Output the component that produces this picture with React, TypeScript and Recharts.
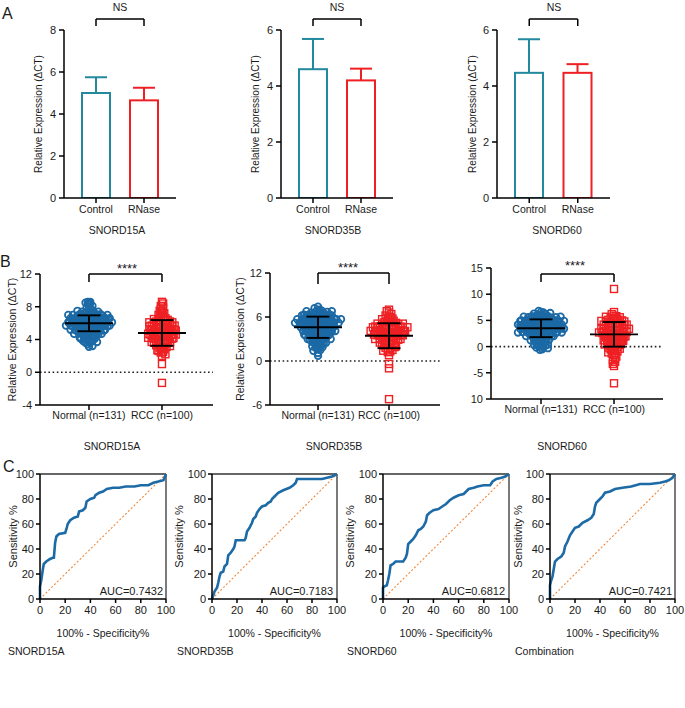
import React from 'react';
import { BarChart, Bar, XAxis, YAxis, ScatterChart, Scatter, LineChart, Line, ReferenceLine } from 'recharts';

const FONT = '"Liberation Sans", Arial, Helvetica, sans-serif';
const INK = '#1a1a1a';

// ---------------- Panel A data ----------------
const groupsA = ['Control', 'RNase'];
const genes = ['SNORD15A', 'SNORD35B', 'SNORD60'];
const meanA_15A = [5.0, 4.65];
const sdA_15A = [0.75, 0.6];
const meanA_35B = [4.6, 4.2];
const sdA_35B = [1.08, 0.42];
const meanA_60 = [4.47, 4.47];
const sdA_60 = [1.2, 0.31];
const ticksA8 = [0, 2, 4, 6, 8];
const ticksA6 = [0, 2, 4, 6];

// ---------------- Panel B data ----------------
const groupsB = ['Normal (n=131)', 'RCC (n=100)'];
const normal15A = [3.1, 3.2, 3.4,
  3.6, 3.6, 3.7, 3.8, 3.8, 3.9, 3.9,
  4.0, 4.1, 4.1, 4.2, 4.3, 4.3, 4.4, 4.4, 4.4,
  4.5, 4.6, 4.6, 4.7, 4.7, 4.8, 4.8, 4.9, 4.9, 4.9, 4.9,
  5.0, 5.0, 5.0, 5.1, 5.1, 5.1, 5.2, 5.2, 5.2, 5.3, 5.3, 5.3, 5.4, 5.4, 5.4,
  5.5, 5.5, 5.5, 5.5, 5.6, 5.6, 5.6, 5.6, 5.7, 5.7, 5.7, 5.7, 5.8, 5.8, 5.8, 5.8, 5.9, 5.9, 5.9, 5.9,
  6.0, 6.0, 6.0, 6.0, 6.0, 6.1, 6.1, 6.1, 6.1, 6.2, 6.2, 6.2, 6.2, 6.2, 6.3, 6.3, 6.3, 6.3, 6.4, 6.4, 6.4, 6.4,
  6.5, 6.5, 6.5, 6.5, 6.5, 6.6, 6.6, 6.6, 6.6, 6.7, 6.7, 6.7, 6.7, 6.8, 6.8, 6.8, 6.8, 6.9, 6.9, 6.9, 6.9,
  7.0, 7.0, 7.0, 7.1, 7.1, 7.1, 7.2, 7.2, 7.3, 7.3, 7.4, 7.4, 7.4,
  7.5, 7.7, 7.8, 7.9,
  8.1, 8.3, 8.4,
  8.5, 8.6, 8.6];
const rcc15A = [8.6, 8.4, 8.1, 7.9, 7.7, 7.5, 7.4, 7.2, 7.0, 6.9, 6.8, 6.6, 6.5,
  6.0, 6.0, 6.1, 6.1, 6.2, 6.2, 6.3, 6.3, 6.4, 6.4, 6.4,
  5.5, 5.5, 5.6, 5.6, 5.7, 5.7, 5.8, 5.8, 5.8, 5.9, 5.9, 5.9,
  5.0, 5.0, 5.1, 5.1, 5.1, 5.2, 5.2, 5.3, 5.3, 5.3, 5.4, 5.4, 5.4,
  4.5, 4.5, 4.6, 4.6, 4.6, 4.7, 4.7, 4.8, 4.8, 4.8, 4.9, 4.9, 4.9,
  4.0, 4.0, 4.1, 4.1, 4.2, 4.2, 4.2, 4.3, 4.3, 4.4, 4.4, 4.4,
  3.5, 3.5, 3.6, 3.6, 3.7, 3.7, 3.8, 3.8, 3.9, 3.9,
  3.0, 3.1, 3.2, 3.3, 3.4, 3.4,
  2.5, 2.6, 2.7, 2.8, 2.9,
  2.0, 2.2, 2.4,
  1.0, -1.3];
const normal35B = [7.0, 7.2, 7.4,
  6.5, 6.6, 6.6, 6.7, 6.8, 6.8, 6.9, 6.9,
  6.0, 6.0, 6.1, 6.1, 6.1, 6.2, 6.2, 6.2, 6.3, 6.3, 6.3, 6.4, 6.4, 6.4, 6.4,
  5.5, 5.5, 5.5, 5.6, 5.6, 5.6, 5.7, 5.7, 5.7, 5.7, 5.8, 5.8, 5.8, 5.9, 5.9, 5.9, 5.9,
  5.0, 5.0, 5.0, 5.1, 5.1, 5.1, 5.2, 5.2, 5.2, 5.2, 5.3, 5.3, 5.3, 5.4, 5.4, 5.4, 5.4,
  4.5, 4.5, 4.5, 4.6, 4.6, 4.6, 4.7, 4.7, 4.7, 4.8, 4.8, 4.8, 4.9, 4.9, 4.9,
  4.0, 4.0, 4.0, 4.1, 4.1, 4.2, 4.2, 4.2, 4.3, 4.3, 4.4, 4.4, 4.4,
  3.5, 3.5, 3.6, 3.6, 3.7, 3.7, 3.8, 3.8, 3.8, 3.9, 3.9, 3.9,
  3.0, 3.0, 3.1, 3.1, 3.2, 3.2, 3.3, 3.3, 3.4, 3.4,
  2.5, 2.6, 2.6, 2.7, 2.8, 2.8, 2.9, 2.9,
  2.0, 2.1, 2.2, 2.3, 2.4, 2.4,
  1.5, 1.7, 1.8, 1.9,
  1.1, 1.4,
  0.7];
const rcc35B = [7.0, 6.8, 6.6, 6.4, 6.2, 6.0, 5.9, 5.8, 5.7, 5.5,
  5.0, 5.0, 5.1, 5.1, 5.2, 5.3, 5.3, 5.4, 5.4,
  4.5, 4.5, 4.6, 4.6, 4.6, 4.7, 4.7, 4.7, 4.8, 4.8, 4.8, 4.9, 4.9, 4.9,
  4.0, 4.0, 4.0, 4.1, 4.1, 4.1, 4.2, 4.2, 4.2, 4.3, 4.3, 4.3, 4.4, 4.4, 4.4,
  3.5, 3.5, 3.6, 3.6, 3.6, 3.7, 3.7, 3.8, 3.8, 3.8, 3.9, 3.9, 3.9,
  3.0, 3.0, 3.1, 3.1, 3.2, 3.2, 3.3, 3.3, 3.4, 3.4, 3.4,
  2.5, 2.5, 2.6, 2.7, 2.7, 2.8, 2.8, 2.9, 2.9,
  2.0, 2.1, 2.2, 2.2, 2.3, 2.4, 2.4,
  1.5, 1.6, 1.7, 1.8, 1.9,
  1.2, 1.3, 1.4,
  0.8, -0.4, -1.0, -5.2];
const normal60 = [6.0, 6.1, 6.2, 6.3, 6.4, 6.5, 6.6, 6.8,
  5.0, 5.0, 5.0, 5.1, 5.1, 5.2, 5.2, 5.2, 5.3, 5.3, 5.4, 5.4, 5.5, 5.5, 5.6, 5.6, 5.7, 5.7, 5.8, 5.8, 5.9, 5.9,
  4.0, 4.0, 4.0, 4.1, 4.1, 4.1, 4.2, 4.2, 4.2, 4.3, 4.3, 4.3, 4.4, 4.4, 4.4, 4.5, 4.5, 4.5, 4.6, 4.6, 4.6, 4.7, 4.7, 4.8, 4.8, 4.9, 4.9,
  3.0, 3.0, 3.0, 3.1, 3.1, 3.1, 3.2, 3.2, 3.2, 3.3, 3.3, 3.3, 3.4, 3.4, 3.4, 3.5, 3.5, 3.5, 3.6, 3.6, 3.6, 3.7, 3.7, 3.7, 3.8, 3.8, 3.9, 3.9,
  2.0, 2.0, 2.1, 2.1, 2.2, 2.2, 2.3, 2.3, 2.4, 2.4, 2.5, 2.5, 2.6, 2.6, 2.7, 2.7, 2.8, 2.8, 2.9, 2.9,
  1.0, 1.1, 1.2, 1.3, 1.4, 1.5, 1.5, 1.6, 1.7, 1.8, 1.9, 1.9,
  0.0, 0.1, 0.2, 0.3, 0.4, 0.5, 0.6, 0.8, 0.9,
  -0.1, -0.2, -0.3, -0.5, -0.6];
const rcc60 = [11.0,
  6.2, 6.6,
  5.0, 5.1, 5.2, 5.3, 5.4, 5.5, 5.6, 5.7, 5.8, 5.9,
  4.0, 4.0, 4.1, 4.1, 4.2, 4.2, 4.3, 4.3, 4.4, 4.4, 4.5, 4.5, 4.6, 4.7, 4.8, 4.9,
  3.0, 3.0, 3.1, 3.1, 3.2, 3.2, 3.3, 3.3, 3.4, 3.4, 3.5, 3.5, 3.6, 3.7, 3.8, 3.9,
  2.0, 2.0, 2.1, 2.1, 2.2, 2.3, 2.3, 2.4, 2.5, 2.5, 2.6, 2.7, 2.8, 2.9, 2.9,
  1.0, 1.0, 1.1, 1.2, 1.3, 1.3, 1.4, 1.5, 1.6, 1.7, 1.8, 1.9, 1.9,
  0.0, 0.1, 0.2, 0.3, 0.4, 0.5, 0.6, 0.7, 0.8, 0.9,
  -0.1, -0.2, -0.4, -0.5, -0.7, -0.8, -0.9,
  -1.1, -1.3, -1.6, -1.9,
  -2.2, -2.6, -2.9,
  -3.3, -3.7,
  -7.0];
const meanB_15A = [5.98, 4.8];
const sdB_15A = [0.97, 1.57];
const meanB_35B = [4.6, 3.45];
const sdB_35B = [1.45, 1.7];
const meanB_60 = [3.5, 2.34];
const sdB_60 = [1.7, 2.35];
const ticksB15A = [-4, 0, 4, 8, 12];
const ticksB35B = [-6, 0, 6, 12];
const ticksB60 = [-10, -5, 0, 5, 10, 15];

// ---------------- Panel C data ----------------
const rocTitles = ['SNORD15A', 'SNORD35B', 'SNORD60', 'Combination'];
const rocAUC = ['AUC=0.7432', 'AUC=0.7183', 'AUC=0.6812', 'AUC=0.7421'];
const roc15A_fpr = [0, 0, 1, 2, 3, 5, 8, 10, 11, 12, 13, 15, 20, 21, 22, 24, 27, 30, 31, 34, 36, 37, 40, 43, 44, 47, 50, 53, 58, 63, 68, 75, 80, 86, 90, 94, 98, 100];
const roc15A_tpr = [0, 10, 15, 22, 28, 30, 32, 33, 33, 45, 50, 52, 53, 56, 60, 63, 65, 66, 70, 71, 73, 78, 80, 81, 83, 85, 86, 88, 89, 89, 90, 90, 91, 91, 93, 94, 95, 100];
const roc35B_fpr = [0, 1, 2, 4, 5, 6, 7, 9, 10, 12, 13, 15, 17, 18, 19, 22, 26, 27, 28, 30, 32, 33, 35, 36, 38, 40, 43, 45, 47, 48, 50, 53, 57, 62, 65, 67, 68, 75, 82, 88, 92, 96, 100];
const roc35B_tpr = [0, 3, 6, 9, 13, 18, 21, 22, 26, 28, 35, 37, 40, 42, 47, 47, 47, 49, 54, 57, 61, 64, 66, 69, 72, 74, 75, 77, 78, 80, 82, 85, 87, 89, 91, 93, 96, 96, 96, 96, 97, 98, 100];
const roc60_fpr = [0, 0, 1, 3, 4, 5, 6, 8, 10, 13, 16, 18, 19, 20, 22, 24, 26, 28, 30, 32, 34, 35, 37, 40, 44, 47, 50, 53, 56, 60, 64, 66, 68, 72, 75, 80, 85, 87, 90, 94, 97, 100];
const roc60_tpr = [0, 9, 10, 11, 15, 20, 27, 28, 30, 30, 30, 33, 36, 44, 46, 48, 51, 55, 56, 58, 62, 67, 69, 71, 72, 74, 76, 79, 81, 83, 84, 86, 88, 89, 90, 91, 91, 94, 96, 97, 98, 100];
const rocComb_fpr = [0, 0, 1, 2, 3, 4, 6, 9, 11, 12, 14, 16, 18, 20, 23, 26, 30, 33, 35, 36, 37, 40, 42, 44, 48, 52, 58, 65, 72, 80, 88, 92, 95, 98, 100];
const rocComb_tpr = [0, 11, 15, 18, 24, 30, 32, 34, 37, 42, 46, 51, 54, 57, 58, 61, 63, 65, 68, 74, 77, 80, 82, 85, 86, 88, 89, 90, 92, 92, 93, 94, 95, 97, 100];
const ticksC = [0, 20, 40, 60, 80, 100];

// ---------------- styles ----------------
const TEAL = '#23899f';
const RED = '#ee2024';
const BLUE = '#1b69a5';
const ROC_BLUE = '#1c6aa6';
const ORANGE = '#f0883a';
const axisLine = { stroke: '#000', strokeWidth: 1.5 };
const tickLine = { stroke: '#000', strokeWidth: 1.5 };
const tickText = (size: number) => ({ fontSize: size, fill: INK, fontFamily: FONT });

const Txt = ({ x, y, size = 10.5, anchor = 'middle', children, weight = 'normal' }: any) => (
  <div
    style={{
      position: 'absolute', left: x, top: y, fontSize: size, fontFamily: FONT, color: INK,
      whiteSpace: 'nowrap', lineHeight: 1, fontWeight: weight,
      transform: `translate(${anchor === 'middle' ? '-50%' : anchor === 'end' ? '-100%' : '0'}, -50%)`,
    }}
  >
    {children}
  </div>
);

// ---------------- Panel A ----------------
const barColors = [TEAL, RED];
const BarShape = (props: any) => {
  const { x, y, width, height, payload, index } = props;
  const color = barColors[index % 2];
  const ppu = height / payload.value;
  const top = y - payload.sd * ppu;
  const cx = x + width / 2;
  return (
    <g>
      <rect x={x + 1} y={y} width={width - 2} height={height} fill="#fff" stroke={color} strokeWidth={2} />
      <line x1={cx} x2={cx} y1={y} y2={top} stroke={color} strokeWidth={2} />
      <line x1={cx - 11} x2={cx + 11} y1={top} y2={top} stroke={color} strokeWidth={2} />
    </g>
  );
};

function BarPanel({ left, ml, yw, plotW, yMax, ticks, means, sds, bracket }: any) {
  const data = groupsA.map((g, i) => ({ group: g, value: means[i], sd: sds[i] }));
  const W = ml + yw + plotW + 10;
  const H = 30 + 168 + 40;
  const [b0, b1] = bracket;
  const br = { stroke: '#000', strokeWidth: 1.5, ifOverflow: 'visible' as const };
  return (
    <div style={{ position: 'absolute', left, top: 0 }}>
      <BarChart width={W} height={H} data={data} margin={{ top: 30, right: 10, bottom: 0, left: ml }} barSize={30}>
        <XAxis dataKey="group" height={40} padding={{ left: 8, right: 8 }} interval={0}
          axisLine={axisLine} tickLine={tickLine} tickSize={5} tickMargin={3} tick={tickText(10.5)} />
        <YAxis type="number" width={yw} domain={[0, yMax]} ticks={ticks} allowDataOverflow
          axisLine={axisLine} tickLine={tickLine} tickSize={5} tickMargin={3} tick={tickText(11)}
          label={{ value: 'Relative Expression (ΔCT)', angle: -90, position: 'insideLeft', offset: 5,
            style: { textAnchor: 'middle', fontSize: 10, fill: INK, fontFamily: FONT } }} />
        <Bar dataKey="value" fill="#fff" shape={BarShape} isAnimationActive={false} />
        <ReferenceLine segment={[{ x: 'Control', y: b0 }, { x: 'Control', y: b1 }]} {...br} />
        <ReferenceLine segment={[{ x: 'Control', y: b1 }, { x: 'RNase', y: b1 }]} {...br} />
        <ReferenceLine segment={[{ x: 'RNase', y: b1 }, { x: 'RNase', y: b0 }]} {...br} />
      </BarChart>
    </div>
  );
}

// ---------------- Panel B ----------------
type Pt = { x: number; y: number };
const BIN_PX = 4;
const SPACING_PX = 2.3;
function swarm(values: number[], center: number, pxPerY: number, pxPerX: number): Pt[] {
  const bins: Record<string, number[]> = {};
  values.forEach((v) => {
    const k = String(Math.round((v * pxPerY) / BIN_PX));
    (bins[k] = bins[k] || []).push(v);
  });
  const pts: Pt[] = [];
  Object.keys(bins).forEach((k) => {
    const arr = bins[k].slice().sort((a, b) => a - b);
    const n = arr.length;
    const mid = Math.floor((n - 1) / 2);
    const valOrder: number[] = [arr[mid]];
    for (let d = 1; valOrder.length < n; d++) {
      if (mid + d < n) valOrder.push(arr[mid + d]);
      if (mid - d >= 0) valOrder.push(arr[mid - d]);
    }
    const slots = arr.map((_, i) => i - (n - 1) / 2).sort((a, b) => Math.abs(a) - Math.abs(b) || a - b);
    const slotOrder: number[] = [];
    for (let i = 0; i < slots.length; i++) {
      const s = slots[i];
      const flip = Math.floor((i + 1) / 2) % 2 === 0 ? -1 : 1;
      slotOrder.push(s === 0 ? 0 : Math.abs(s) * flip * (i % 2 === 0 ? 1 : -1));
    }
    const used: Record<string, boolean> = {};
    const finalSlots = slotOrder.map((s, i) => {
      let v = s;
      if (used[String(v)]) v = -v;
      if (used[String(v)]) v = slots[i];
      used[String(v)] = true;
      return v;
    });
    valOrder.forEach((v, i) => pts.push({ x: center + (finalSlots[i] * SPACING_PX) / pxPerX, y: v }));
  });
  return pts;
}

const CircleMark = (p: any) => (
  <circle cx={p.cx} cy={p.cy} r={3.3} fill="none" stroke={BLUE} strokeWidth={1.8} />
);
const SquareMark = (p: any) => (
  <rect x={p.cx - 3.5} y={p.cy - 3.5} width={7} height={7} fill="none" stroke={RED} strokeWidth={1.4} />
);
const MeanMark = (p: any) => (
  <line x1={p.cx - 24} x2={p.cx + 24} y1={p.cy} y2={p.cy} stroke="#000" strokeWidth={1.9} />
);
const CapMark = (p: any) => (
  <line x1={p.cx - 11.5} x2={p.cx + 11.5} y1={p.cy} y2={p.cy} stroke="#000" strokeWidth={1.9} />
);

function ScatterPanel({ left, top, ml, yw, plotW, plotH, yDomain, ticks, tickFmt, xDomain, normal, rcc, means, sds, bracket, yLabel }: any) {
  const pxPerY = plotH / (yDomain[1] - yDomain[0]);
  const pxPerX = plotW / (xDomain[1] - xDomain[0]);
  const nPts = swarm(normal, 1, pxPerY, pxPerX);
  const rPts = swarm(rcc, 2, pxPerY, pxPerX);
  const summary = [0, 1].map((i) => ({ x: i + 1, y: means[i] }));
  const sdPts = [0, 1].map((i) => [
    { x: i + 1, y: means[i] - sds[i] },
    { x: i + 1, y: means[i] + sds[i] },
  ]);
  const W = ml + yw + plotW + 10;
  const H = 30 + plotH + 48;
  const [b0, b1] = bracket;
  const br = { stroke: '#000', strokeWidth: 1.5, ifOverflow: 'visible' as const };
  return (
    <div style={{ position: 'absolute', left, top }}>
      <ScatterChart width={W} height={H} margin={{ top: 30, right: 10, bottom: 0, left: ml }}>
        <XAxis type="number" dataKey="x" domain={xDomain} ticks={[1, 2]} allowDataOverflow height={48}
          tickFormatter={(v: number) => groupsB[Math.round(v) - 1]} interval={0}
          axisLine={axisLine} tickLine={tickLine} tickSize={5} tickMargin={2} tick={tickText(10.5)} />
        <YAxis type="number" dataKey="y" domain={yDomain} ticks={ticks} allowDataOverflow width={yw}
          tickFormatter={tickFmt} interval={0}
          axisLine={axisLine} tickLine={tickLine} tickSize={5} tickMargin={3} tick={tickText(11)}
          label={yLabel ? { value: 'Relative Expression (ΔCT)', angle: -90, position: 'insideLeft', offset: 5,
            style: { textAnchor: 'middle', fontSize: 10.5, fill: INK, fontFamily: FONT } } : undefined} />
        <ReferenceLine y={0} stroke="#222" strokeWidth={1.6} strokeDasharray="1.6 2.6" />
        <ReferenceLine segment={[{ x: 1, y: b0 }, { x: 1, y: b1 }]} {...br} />
        <ReferenceLine segment={[{ x: 1, y: b1 }, { x: 2, y: b1 }]} {...br} />
        <ReferenceLine segment={[{ x: 2, y: b1 }, { x: 2, y: b0 }]} {...br} />
        <Scatter data={nPts} shape={CircleMark} isAnimationActive={false} />
        <Scatter data={rPts} shape={SquareMark} isAnimationActive={false} />
        <Scatter data={sdPts[0]} shape={CapMark} line={{ stroke: '#000', strokeWidth: 1.9 }} isAnimationActive={false} />
        <Scatter data={sdPts[1]} shape={CapMark} line={{ stroke: '#000', strokeWidth: 1.9 }} isAnimationActive={false} />
        <Scatter data={summary} shape={MeanMark} isAnimationActive={false} />
      </ScatterChart>
    </div>
  );
}

// ---------------- Panel C ----------------
function RocPanel({ left, ml, yw, plotW, fpr, tpr }: any) {
  const data = fpr.map((f: number, i: number) => ({ fpr: f, tpr: tpr[i] }));
  const W = ml + yw + plotW + 12;
  const H = 10 + 125 + 40;
  return (
    <div style={{ position: 'absolute', left, top: 464 }}>
      <LineChart width={W} height={H} data={data} margin={{ top: 10, right: 12, bottom: 0, left: ml }}>
        <XAxis type="number" dataKey="fpr" domain={[0, 100]} ticks={ticksC} interval={0} height={40}
          axisLine={axisLine} tickLine={tickLine} tickSize={4} tickMargin={3} tick={tickText(11)}
          label={{ value: '100% - Specificity%', position: 'insideBottom', offset: 2,
            style: { fontSize: 10.5, fill: INK, fontFamily: FONT } }} />
        <YAxis type="number" domain={[0, 100]} ticks={ticksC} interval={0} width={yw}
          axisLine={axisLine} tickLine={tickLine} tickSize={4} tickMargin={2} tick={tickText(11)}
          label={{ value: 'Sensitivity %', angle: -90, position: 'insideLeft', offset: 5,
            style: { textAnchor: 'middle', fontSize: 11, fill: INK, fontFamily: FONT } }} />
        <ReferenceLine y={100} stroke="#333" strokeWidth={1.3} />
        <ReferenceLine x={100} stroke="#333" strokeWidth={1.3} />
        <ReferenceLine segment={[{ x: 0, y: 0 }, { x: 100, y: 100 }]} stroke={ORANGE} strokeWidth={1.1} strokeDasharray="2 2" />
        <Line type="linear" dataKey="tpr" stroke={ROC_BLUE} strokeWidth={2.6} dot={false} isAnimationActive={false} />
      </LineChart>
    </div>
  );
}

export default function App() {
  const rocs = [
    { left: 0, ml: 8, yw: 32, plotW: 126, fpr: roc15A_fpr, tpr: roc15A_tpr },
    { left: 170, ml: 4, yw: 38, plotW: 125, fpr: roc35B_fpr, tpr: roc35B_tpr },
    { left: 340, ml: 5, yw: 38, plotW: 126, fpr: roc60_fpr, tpr: roc60_tpr },
    { left: 510, ml: 3, yw: 37, plotW: 125, fpr: rocComb_fpr, tpr: rocComb_tpr },
  ];
  const aucRight = [163, 333, 505, 672];
  const rocTitleLeft = [8, 177, 347, 515];
  return (
    <div style={{ position: 'absolute', left: 0, top: 0, width: 685, height: 708, background: '#fff', overflow: 'hidden', fontFamily: FONT, color: INK }}>
      {/* Panel A */}
      <BarPanel left={0} ml={33} yw={31} plotW={112} yMax={8} ticks={ticksA8} means={meanA_15A} sds={sdA_15A} bracket={[8.19, 8.52]} />
      <BarPanel left={230} ml={20} yw={31} plotW={112} yMax={6} ticks={ticksA6} means={meanA_35B} sds={sdA_35B} bracket={[6.14, 6.39]} />
      <BarPanel left={455} ml={12} yw={30} plotW={113} yMax={6} ticks={ticksA6} means={meanA_60} sds={sdA_60} bracket={[6.14, 6.39]} />
      <Txt x={2} y={14} size={16} anchor="start">A</Txt>
      <Txt x={120} y={7} size={10.5}>NS</Txt>
      <Txt x={337} y={7} size={10.5}>NS</Txt>
      <Txt x={554} y={7} size={10.5}>NS</Txt>
      <Txt x={117} y={230}>{genes[0]}</Txt>
      <Txt x={333} y={230}>{genes[1]}</Txt>
      <Txt x={557} y={230}>{genes[2]}</Txt>

      {/* Panel B */}
      <ScatterPanel left={0} top={244} ml={7} yw={33} plotW={173} plotH={131} yDomain={[-4, 12]} ticks={ticksB15A}
        xDomain={[0.329, 2.699]} normal={normal15A} rcc={rcc15A} means={meanB_15A} sds={sdB_15A} bracket={[11.02, 12]} yLabel />
      <ScatterPanel left={225} top={243} ml={10} yw={35} plotW={170} plotH={132} yDomain={[-6, 12]} ticks={ticksB35B}
        xDomain={[0.324, 2.718]} normal={normal35B} rcc={rcc35B} means={meanB_35B} sds={sdB_35B} bracket={[10.5, 12]} yLabel />
      <ScatterPanel left={455} top={238} ml={0} yw={36} plotW={172} plotH={131} yDomain={[-10, 15]} ticks={ticksB60}
        tickFmt={(v: number) => (v === -10 ? '10' : String(v))}
        xDomain={[0.315, 2.671]} normal={normal60} rcc={rcc60} means={meanB_60} sds={sdB_60} bracket={[12.33, 13.85]} />
      <Txt x={0} y={262} size={16} anchor="start">B</Txt>
      <Txt x={127} y={268} size={13}>****</Txt>
      <Txt x={348} y={267} size={13}>****</Txt>
      <Txt x={575} y={265} size={13}>****</Txt>
      <Txt x={112} y={446}>{genes[0]}</Txt>
      <Txt x={334} y={446}>{genes[1]}</Txt>
      <Txt x={562} y={446}>{genes[2]}</Txt>

      {/* Panel C */}
      {rocs.map((r, i) => (
        <RocPanel key={i} {...r} />
      ))}
      <Txt x={3} y={467} size={16} anchor="start">C</Txt>
      {rocAUC.map((a, i) => (
        <Txt key={a} x={aucRight[i]} y={591} size={11} anchor="end">{a}</Txt>
      ))}
      {rocTitles.map((t, i) => (
        <Txt key={t} x={rocTitleLeft[i]} y={651} anchor="start">{t}</Txt>
      ))}
    </div>
  );
}
